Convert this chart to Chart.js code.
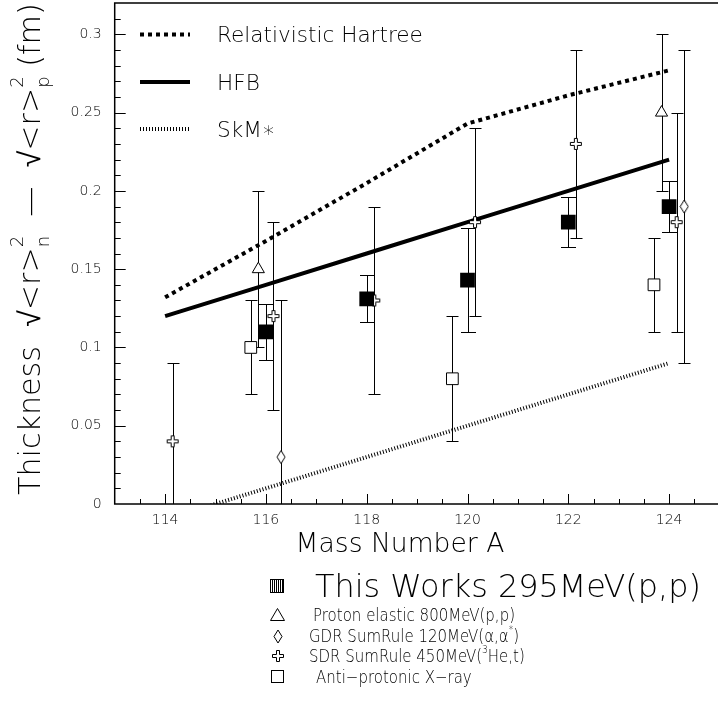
<!DOCTYPE html>
<html>
<head>
<meta charset="utf-8">
<script src="https://cdn.jsdelivr.net/npm/chart.js@4/dist/chart.umd.min.js"></script>
<style>
html, body { margin: 0; padding: 0; background: #fff; overflow: hidden; }
#wrap { position: relative; width: 730px; height: 709px; }
</style>
</head>
<body>
<div id="wrap"><canvas id="chart"></canvas></div>
<script>
// axis ticks
var xTicks = [114, 116, 118, 120, 122, 124];
var xTickLabels = ['114', '116', '118', '120', '122', '124'];
var yTicks = [0, 0.05, 0.1, 0.15, 0.2, 0.25, 0.3];
var yTickLabels = ['0', '0.05', '0.1', '0.15', '0.2', '0.25', '0.3'];

// theory curves
var theoryA = [114, 116, 118, 120, 122, 124];
var relHartree = [0.132, 0.168, 0.205, 0.243, 0.261, 0.277];
var hfb = [0.12, 0.14, 0.16, 0.18, 0.20, 0.22];
var skm = [-0.01, 0.01, 0.03, 0.05, 0.07, 0.09];
var theoryNames = ['Relativistic Hartree', 'HFB', 'SkM\u2217'];

// measurements (mass number, thickness, error)
var thisA = [116, 118, 120, 122, 124];
var thisY = [0.11, 0.131, 0.143, 0.18, 0.19];
var thisErr = [0.018, 0.015, 0.033, 0.016, 0.016];

var protonA = [115.85, 123.85];
var protonY = [0.15, 0.25];
var protonErr = [0.05, 0.05];

var gdrA = [116.3, 124.3];
var gdrY = [0.03, 0.19];
var gdrErr = [0.1, 0.1];

var sdrA = [114.15, 116.15, 118.15, 120.15, 122.15, 124.15];
var sdrY = [0.04, 0.12, 0.13, 0.18, 0.23, 0.18];
var sdrErr = [0.05, 0.06, 0.06, 0.06, 0.06, 0.07];

var antiA = [115.7, 119.7, 123.7];
var antiY = [0.10, 0.08, 0.14];
var antiErr = [0.03, 0.04, 0.03];

var seriesNames = ['This Works 295MeV(p,p)', 'Proton elastic 800MeV(p,p)',
    'GDR SumRule 120MeV(\u03b1,\u03b1*)', 'SDR SumRule 450MeV(\u00b3He,t)', 'Anti\u2212protonic X\u2212ray'];

var FAMILY = '"DejaVu Sans", "Liberation Sans", sans-serif';
var WEIGHT = '200';
function font(size) {
    return WEIGHT + ' ' + size + 'px ' + FAMILY;
}

function pts(xs, ys) {
    return xs.map(function(x, i) { return {x: x, y: ys[i]}; });
}

function marker(w, h, path) {
    var c = document.createElement('canvas');
    c.width = w; c.height = h;
    var g = c.getContext('2d');
    g.beginPath();
    path(g);
    g.closePath();
    g.fillStyle = '#fff';
    g.fill();
    g.strokeStyle = '#000';
    g.lineWidth = 1;
    g.stroke();
    return c;
}

var diamond = marker(10, 15, function(g) {
    g.moveTo(5, 1); g.lineTo(9, 7.5); g.lineTo(5, 14); g.lineTo(1, 7.5);
});
var cross = marker(14, 14, function(g) {
    g.moveTo(5.5, 1.5); g.lineTo(8.5, 1.5); g.lineTo(8.5, 5.5); g.lineTo(12.5, 5.5);
    g.lineTo(12.5, 8.5); g.lineTo(8.5, 8.5); g.lineTo(8.5, 12.5); g.lineTo(5.5, 12.5);
    g.lineTo(5.5, 8.5); g.lineTo(1.5, 8.5); g.lineTo(1.5, 5.5); g.lineTo(5.5, 5.5);
});

// rich text: segments {t, scale, dy, stack}
function richDraw(ctx, segs, x, y, size, dry) {
    var cx = x;
    segs.forEach(function(s) {
        var sz = size * (s.scale || 1);
        ctx.font = font(sz);
        if (!dry) ctx.fillText(s.t, cx, y + (s.dy || 0) * size);
        if (!s.stack) cx += ctx.measureText(s.t).width;
    });
    return cx - x;
}

// plot box in page pixels
var AREA = {left: 114.7, top: 3, right: 719.5, bottom: 504};

var fixArea = {
    id: 'fixArea',
    afterLayout: function(chart) {
        var xs = chart.scales.x, ys = chart.scales.y;
        ys.left = 0; ys.right = AREA.left; ys.width = AREA.left;
        ys.top = AREA.top; ys.bottom = AREA.bottom; ys.height = AREA.bottom - AREA.top;
        xs.left = AREA.left; xs.right = AREA.right; xs.width = AREA.right - AREA.left;
        xs.top = AREA.bottom; xs.bottom = chart.height; xs.height = chart.height - AREA.bottom;
        var ca = chart.chartArea;
        ca.left = AREA.left; ca.right = AREA.right; ca.top = AREA.top; ca.bottom = AREA.bottom;
        ca.width = AREA.right - AREA.left; ca.height = AREA.bottom - AREA.top;
        xs.configure(); ys.configure();
    }
};

var errorBars = {
    id: 'errorBars',
    beforeDatasetsDraw: function(chart) {
        var ctx = chart.ctx, xs = chart.scales.x, ys = chart.scales.y, a = chart.chartArea;
        ctx.save();
        ctx.beginPath();
        ctx.rect(a.left, a.top, a.right - a.left, a.bottom - a.top);
        ctx.clip();
        ctx.strokeStyle = '#000';
        ctx.lineWidth = 1;
        chart.data.datasets.forEach(function(ds) {
            if (!ds.errors) return;
            ds.data.forEach(function(p, i) {
                var px = Math.round(xs.getPixelForValue(p.x)) + 0.5;
                var lo = Math.round(ys.getPixelForValue(p.y - ds.errors[i])) + 0.5;
                var hi = Math.round(ys.getPixelForValue(p.y + ds.errors[i])) + 0.5;
                var c = ds.capWidth / 2;
                ctx.beginPath();
                ctx.moveTo(px, lo); ctx.lineTo(px, hi);
                ctx.moveTo(px - c, lo); ctx.lineTo(px + c, lo);
                ctx.moveTo(px - c, hi); ctx.lineTo(px + c, hi);
                ctx.stroke();
            });
        });
        ctx.restore();
    }
};

var frame = {
    id: 'frame',
    afterDraw: function(chart) {
        var ctx = chart.ctx, a = chart.chartArea, xs = chart.scales.x, ys = chart.scales.y;
        ctx.save();
        ctx.strokeStyle = '#000';
        ctx.lineWidth = 1.5;
        ctx.strokeRect(a.left, a.top, a.right - a.left, a.bottom - a.top);
        ctx.lineWidth = 1;
        ctx.beginPath();
        for (var v = 113.5; v < 125; v += 0.5) {
            var px = Math.round(xs.getPixelForValue(v)) + 0.5;
            var len = (v % 2 === 0) ? 10 : 5;
            ctx.moveTo(px, a.bottom); ctx.lineTo(px, a.bottom - len);
        }
        for (var k = 1; k <= 31; k++) {
            var py = Math.round(ys.getPixelForValue(k / 100)) + 0.5;
            var l2 = (k % 5 === 0) ? 11 : 6;
            ctx.moveTo(a.left, py); ctx.lineTo(a.left + l2, py);
        }
        ctx.stroke();

        ctx.fillStyle = '#000';
        ctx.textBaseline = 'alphabetic';

        // x title
        var xt = 'Mass Number A';
        ctx.font = font(100);
        var xs1 = 100 * 209 / ctx.measureText(xt).width;
        ctx.font = font(xs1);
        ctx.textAlign = 'center';
        ctx.fillText(xt, 400, 552);

        // y title, rotated
        ctx.textAlign = 'left';
        var ysegs = [
            {t: 'Thickness  '}, {t: '\u221a<r>'},
            {t: '2', scale: 0.6, dy: -0.55, stack: true}, {t: 'n', scale: 0.6, dy: 0.3},
            {t: '  \u2014  '}, {t: '\u221a<r>'},
            {t: '2', scale: 0.6, dy: -0.55, stack: true}, {t: 'p', scale: 0.6, dy: 0.3},
            {t: ' (fm)'}
        ];
        var w100 = richDraw(ctx, ysegs, 0, 0, 100, true);
        var ysz = 100 * 492 / w100;
        ctx.save();
        ctx.translate(40, 249);
        ctx.rotate(-Math.PI / 2);
        richDraw(ctx, ysegs, -246, 0, ysz);
        ctx.restore();

        // theory legend, top left
        ctx.font = font(100);
        var lsz = 100 * 206 / ctx.measureText(theoryNames[0]).width;
        var rows = [34.5, 82, 129];
        [5, 6, 7].forEach(function(di, r) {
            var ds = chart.data.datasets[di];
            ctx.save();
            ctx.strokeStyle = '#000';
            ctx.lineWidth = ds.borderWidth;
            ctx.setLineDash(ds.borderDash || []);
            ctx.beginPath();
            ctx.moveTo(140, rows[r]); ctx.lineTo(190, rows[r]);
            ctx.stroke();
            ctx.restore();
            ctx.font = font(lsz);
            ctx.fillText(ds.label, 217, rows[r] + lsz * 0.36);
        });

        // measurement legend, bottom
        ctx.font = font(100);
        var bsz = 100 * 386 / ctx.measureText(seriesNames[0]).width;
        var row1 = 586;
        ctx.save();
        ctx.lineWidth = 1;
        ctx.strokeRect(270.5, row1 - 6.5, 13, 13);
        ctx.beginPath();
        for (var h = 272.5; h < 283; h += 2) { ctx.moveTo(h, row1 - 6); ctx.lineTo(h, row1 + 6); }
        ctx.stroke();
        ctx.restore();
        ctx.font = font(bsz);
        ctx.fillText(seriesNames[0], 315, row1 + bsz * 0.36);

        var rowY = [615, 636, 656, 677];
        ctx.save();
        ctx.fillStyle = '#fff';
        ctx.beginPath();
        ctx.moveTo(277.5, rowY[0] - 6.5); ctx.lineTo(284.5, rowY[0] + 5.5); ctx.lineTo(270.5, rowY[0] + 5.5); ctx.closePath();
        ctx.fill(); ctx.stroke();
        ctx.restore();
        ctx.drawImage(diamond, 273, rowY[1] - 7);
        ctx.drawImage(cross, 271, rowY[2] - 7);
        ctx.strokeRect(271.5, rowY[3] - 6.5, 12, 12);

        // smaller rows: 18px, squeezed horizontally to the original width
        var ssz = 18;
        ctx.font = font(ssz);
        var sx = 202 / ctx.measureText(seriesNames[1]).width;
        var cap = ssz * 0.36;
        var rowsText = [
            [{t: seriesNames[1]}],
            [{t: 'GDR SumRule 120MeV(\u03b1,\u03b1'}, {t: '*', scale: 0.6, dy: -0.5}, {t: ')'}],
            [{t: 'SDR SumRule 450MeV('}, {t: '3', scale: 0.6, dy: -0.5}, {t: 'He,t)'}],
            [{t: seriesNames[4]}]
        ];
        var rowX = [313, 309, 309, 316];
        rowsText.forEach(function(segs, r) {
            ctx.save();
            ctx.translate(rowX[r], rowY[r] + cap);
            ctx.scale(sx, 1);
            richDraw(ctx, segs, 0, 0, ssz);
            ctx.restore();
        });
        ctx.restore();
    }
};

Chart.defaults.color = '#000';
Chart.defaults.font.family = FAMILY;

new Chart(document.getElementById('chart'), {
    type: 'scatter',
    data: {
        datasets: [
            {label: seriesNames[0], data: pts(thisA, thisY), errors: thisErr, capWidth: 15,
             pointStyle: 'rect', pointRadius: 10.4, backgroundColor: '#000', borderWidth: 0},
            {label: seriesNames[1], data: pts(protonA, protonY), errors: protonErr, capWidth: 12,
             pointStyle: 'triangle', pointRadius: 7, backgroundColor: '#fff', borderColor: '#000', borderWidth: 1},
            {label: seriesNames[2], data: pts(gdrA, gdrY), errors: gdrErr, capWidth: 12,
             pointStyle: diamond, pointRadius: 6},
            {label: seriesNames[3], data: pts(sdrA, sdrY), errors: sdrErr, capWidth: 12,
             pointStyle: cross, pointRadius: 6},
            {label: seriesNames[4], data: pts(antiA, antiY), errors: antiErr, capWidth: 12,
             pointStyle: 'rect', pointRadius: 8.3, backgroundColor: '#fff', borderColor: '#000', borderWidth: 1},
            {label: theoryNames[0], data: pts(theoryA, relHartree), showLine: true, pointRadius: 0,
             borderColor: '#000', borderWidth: 4, borderDash: [4, 4], clip: 0},
            {label: theoryNames[1], data: pts(theoryA, hfb), showLine: true, pointRadius: 0,
             borderColor: '#000', borderWidth: 4, clip: 0},
            {label: theoryNames[2], data: pts(theoryA, skm), showLine: true, pointRadius: 0,
             borderColor: '#000', borderWidth: 4, borderDash: [1, 2], clip: 0}
        ]
    },
    options: {
        responsive: true,
        maintainAspectRatio: false,
        animation: false,
        events: [],
        layout: {padding: {top: 3, right: 10.5, left: 0, bottom: 0}},
        plugins: {legend: {display: false}, tooltip: {enabled: false}},
        scales: {
            x: {
                type: 'linear', min: 113, max: 125,
                grid: {display: false, drawTicks: false},
                border: {display: false},
                afterBuildTicks: function(axis) { axis.ticks = xTicks.map(function(v) { return {value: v}; }); },
                ticks: {autoSkip: false, maxRotation: 0, padding: 8,
                    font: {size: 14, weight: WEIGHT},
                    callback: function(v, i) { return xTickLabels[i]; }}
            },
            y: {
                type: 'linear', min: 0, max: 0.32,
                grid: {display: false, drawTicks: false},
                border: {display: false},
                afterBuildTicks: function(axis) { axis.ticks = yTicks.map(function(v) { return {value: v}; }); },
                ticks: {autoSkip: false, padding: 13,
                    font: {size: 14, weight: WEIGHT},
                    callback: function(v, i) { return yTickLabels[i]; }}
            }
        }
    },
    plugins: [fixArea, errorBars, frame]
});
</script>
</body>
</html>
